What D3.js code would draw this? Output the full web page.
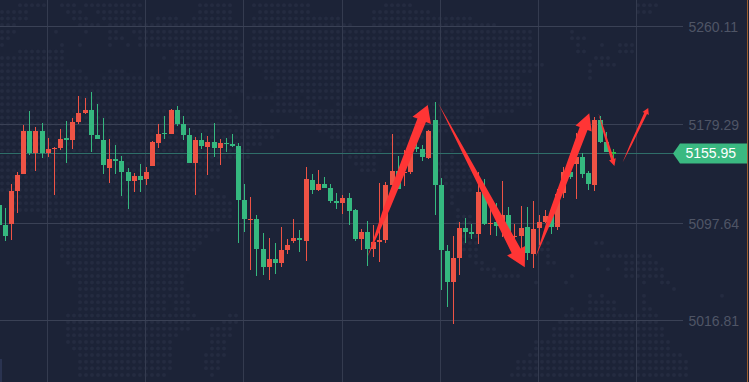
<!DOCTYPE html>
<html>
<head>
<meta charset="utf-8">
<script src="https://cdn.jsdelivr.net/npm/d3@7"></script>
<style>
    html, body { margin: 0; padding: 0; background: #1c2337; overflow: hidden; }
    svg { display: block; }
    text { font-family: "Liberation Sans", Arial, sans-serif; }
</style>
</head>
<body>
<div id="chart"></div>
<script>
// Candle data, oldest first
const opens = [5112.6, 5096.1, 5096.9, 5124.2, 5138.2, 5173.8, 5155.6, 5173.8, 5155.6, 5159.2,
    5159.7, 5168.0, 5166.3, 5181.2, 5188.6, 5191.1, 5170.5, 5166.3, 5143.2, 5150.6,
    5149.0, 5139.9, 5132.5, 5136.6, 5134.1, 5144.9, 5163.9, 5172.1, 5171.3, 5191.1,
    5179.6, 5170.5, 5147.3, 5166.3, 5160.6, 5164.7, 5159.8, 5163.9, 5163.0, 5161.4,
    5116.8, 5100.5, 5101.1, 5076.3, 5061.4, 5068.0, 5064.7, 5075.5, 5082.9, 5085.4,
    5082.9, 5133.3, 5125.0, 5130.0, 5126.7, 5116.0, 5114.3, 5118.4, 5108.5, 5084.5,
    5090.3, 5076.3, 5082.1, 5083.7, 5129.2, 5140.7, 5139.1, 5139.9, 5160.6, 5159.0,
    5151.5, 5182.9, 5129.2, 5074.7, 5049.0, 5068.9, 5093.7, 5090.3, 5088.7, 5123.4,
    5097.0, 5098.6, 5097.5, 5104.4, 5086.2, 5087.0, 5094.5, 5072.2, 5093.7, 5098.6,
    5103.6, 5094.5, 5122.6, 5139.9, 5146.5, 5152.3, 5139.1, 5129.2, 5182.9, 5164.7,
    5156.4];
const closes = [5096.1, 5087.0, 5124.2, 5137.4, 5173.8, 5155.6, 5173.8, 5155.6, 5158.9, 5159.7,
    5167.2, 5166.3, 5181.2, 5188.6, 5191.1, 5170.5, 5167.2, 5145.7, 5150.6, 5149.0,
    5139.9, 5132.5, 5136.6, 5133.3, 5139.9, 5164.7, 5171.3, 5171.3, 5191.1, 5179.6,
    5170.5, 5147.3, 5166.3, 5161.4, 5164.7, 5159.8, 5163.9, 5163.4, 5161.4, 5116.8,
    5101.1, 5101.1, 5076.3, 5061.4, 5068.0, 5064.7, 5075.5, 5079.6, 5085.4, 5083.7,
    5134.2, 5125.0, 5130.0, 5126.7, 5116.0, 5114.3, 5118.4, 5107.7, 5084.5, 5090.3,
    5076.3, 5082.1, 5083.7, 5129.2, 5140.7, 5125.9, 5139.9, 5155.3, 5159.0, 5152.3,
    5173.8, 5129.2, 5075.5, 5049.0, 5068.9, 5093.7, 5090.3, 5088.7, 5123.4, 5097.0,
    5097.8, 5095.3, 5104.4, 5083.7, 5087.0, 5093.7, 5073.0, 5092.8, 5098.6, 5103.6,
    5094.5, 5121.8, 5139.9, 5135.8, 5152.3, 5138.3, 5130.0, 5182.9, 5164.7, 5156.4,
    5154.8];
const highs = [5112.6, 5110.2, 5130.0, 5139.6, 5178.7, 5190.3, 5177.1, 5180.4, 5168.0, 5160.6,
    5175.4, 5182.0, 5184.5, 5202.7, 5201.0, 5206.0, 5196.1, 5184.5, 5167.2, 5162.2,
    5153.1, 5143.2, 5139.1, 5146.5, 5144.0, 5165.5, 5179.6, 5186.2, 5192.0, 5194.4,
    5186.2, 5176.3, 5168.8, 5172.1, 5169.7, 5180.4, 5167.2, 5168.0, 5171.3, 5163.9,
    5130.0, 5119.3, 5104.4, 5089.5, 5085.4, 5081.3, 5094.5, 5084.5, 5101.1, 5092.0,
    5144.0, 5138.3, 5141.6, 5135.8, 5130.0, 5122.6, 5120.9, 5122.6, 5109.4, 5092.8,
    5099.4, 5096.1, 5130.8, 5131.6, 5171.3, 5153.2, 5158.1, 5166.3, 5163.6, 5162.2,
    5174.6, 5197.7, 5135.0, 5079.6, 5087.0, 5098.6, 5101.9, 5097.0, 5139.9, 5134.2,
    5114.0, 5114.0, 5132.5, 5111.0, 5097.0, 5111.8, 5111.0, 5116.0, 5104.4, 5108.5,
    5108.5, 5125.9, 5144.0, 5147.1, 5171.9, 5155.3, 5140.7, 5185.6, 5186.2, 5173.0,
    5159.0];
const lows = [5096.1, 5082.9, 5083.7, 5106.0, 5138.2, 5153.9, 5140.7, 5151.5, 5152.3, 5120.9,
    5158.1, 5147.3, 5158.9, 5179.6, 5187.8, 5156.4, 5167.2, 5138.2, 5130.8, 5138.2,
    5120.1, 5109.3, 5123.4, 5123.4, 5129.2, 5144.9, 5159.7, 5167.2, 5171.3, 5178.0,
    5166.3, 5147.3, 5120.9, 5159.0, 5137.5, 5152.3, 5145.7, 5156.4, 5160.6, 5081.3,
    5090.3, 5059.0, 5054.0, 5054.8, 5050.7, 5055.6, 5061.4, 5072.2, 5081.3, 5073.8,
    5066.4, 5121.8, 5124.2, 5126.7, 5114.3, 5109.4, 5105.2, 5096.1, 5082.9, 5075.5,
    5062.3, 5070.0, 5065.6, 5081.3, 5129.2, 5125.9, 5128.4, 5138.3, 5156.4, 5149.0,
    5150.7, 5104.4, 5042.4, 5028.4, 5014.4, 5054.8, 5081.3, 5084.5, 5080.4, 5096.1,
    5087.9, 5087.0, 5086.5, 5081.0, 5072.7, 5072.7, 5067.2, 5060.6, 5079.6, 5097.5,
    5088.7, 5092.0, 5118.4, 5134.2, 5117.6, 5135.0, 5125.0, 5124.2, 5163.9, 5156.4,
    5149.9];

const priceTicks = [5260.11, 5179.29, 5097.64, 5016.81];
const lastPrice = 5155.95;
const timeTicks = [8, 24, 40, 56, 72, 88, 104];

// Hand drawn arrows, candle index and price at tail and tip
const arrowTails = [[60.1, 5069.9], [71.6, 5196.7], [87.5, 5069.9], [97.7, 5188.4], [101.6, 5147.6]];
const arrowTips = [[69.9, 5195.3], [85.7, 5061.2], [96.2, 5188.4], [100.3, 5144.9], [105.8, 5192.8]];
const arrowHeadLengths = [16.5, 18.6, 16.2, 7, 6];
const arrowHeadHalves = [9.9, 10.2, 8.6, 3.5, 3.5];
const arrowShaftHalves = [4.6, 5, 4.2, 1.5, 1.5];
const arrowMidRatios = [0.68, 0.38, 0.68, 0.6, 0.6];

// Dotted world map in the background, runs of dot columns for each dot row
const mapRows = [
    [[3, 7], [10, 12], [14, 23], [33, 38], [42, 51], [64, 68], [106, 109]],
    [[0, 4], [11, 13], [16, 22], [33, 38], [43, 51], [62, 71], [106, 108]],
    [[0, 4], [12, 14], [17, 23], [26, 29], [32, 38], [42, 56], [62, 78]],
    [[0, 2], [13, 16], [18, 24], [25, 29], [30, 39], [42, 58], [62, 82]],
    [[0, 2], [9, 9], [14, 14], [18, 19], [22, 39], [42, 88], [95, 95]],
    [[0, 1], [18, 20], [23, 39], [42, 88], [95, 97]],
    [[0, 0], [10, 10], [13, 13], [18, 18], [21, 21], [23, 40], [42, 88], [96, 96], [100, 100], [103, 105]],
    [[3, 10], [29, 40], [42, 88], [96, 97], [103, 105]],
    [[0, 10], [27, 27], [29, 40], [42, 88], [99, 101]],
    [[0, 10], [29, 40], [42, 90], [98, 98], [100, 102]],
    [[0, 13], [18, 20], [28, 40], [44, 88], [98, 98]],
    [[0, 14], [17, 23], [25, 26], [28, 40], [44, 86], [98, 98]],
    [[0, 40], [46, 88]],
    [[0, 40], [46, 88]],
    [[0, 37], [41, 49], [51, 88]],
    [[0, 37], [46, 52], [56, 88]],
    [[0, 38], [45, 56], [62, 85]],
    [[0, 39], [50, 80]],
    [[0, 43], [52, 80]],
    [[0, 46], [53, 80]],
    [[0, 45], [55, 72]],
    [[0, 43], [57, 68]],
    [[0, 41], [57, 63], [75, 75]],
    [[0, 41], [58, 62], [75, 75]],
    [[0, 36], [59, 62], [73, 78]],
    [[0, 36], [60, 62], [73, 78]],
    [[0, 36], [74, 78]],
    [[0, 34], [74, 78]],
    [[0, 35], [75, 78]],
    [[2, 37], [75, 75]],
    [[2, 38], [75, 75]],
    [[2, 38], [76, 76]],
    [[7, 38], [76, 78]],
    [[10, 36], [76, 78]],
    [[10, 36], [77, 78]],
    [[10, 34], [77, 79]],
    [[10, 33], [77, 79], [90, 91], [99, 100]],
    [[10, 32], [77, 79], [90, 91]],
    [[10, 31], [78, 79], [91, 91], [100, 108]],
    [[11, 31], [79, 80], [91, 92], [104, 109]],
    [[12, 31], [80, 82], [101, 101], [104, 110]],
    [[12, 30], [82, 86], [95, 95], [104, 110]],
    [[13, 30], [89, 89], [94, 94], [107, 107], [110, 111]],
    [[13, 30], [112, 112]],
    [[13, 31], [98, 98], [100, 100], [107, 107], [120, 120]],
    [[13, 27], [29, 31], [98, 102], [107, 107]],
    [[13, 27], [29, 31], [95, 95], [98, 102], [107, 108]],
    [[11, 32], [38, 39], [94, 109]],
    [[11, 31], [37, 39], [93, 109]],
    [[11, 31], [35, 38], [92, 110]],
    [[11, 29], [35, 38], [92, 110]],
    [[11, 28], [35, 37], [89, 111]],
    [[12, 28], [35, 37], [89, 111]],
    [[13, 28], [34, 37], [88, 113]],
    [[13, 28], [34, 36], [86, 114]],
    [[13, 28], [34, 36], [86, 114]],
    [[13, 27], [35, 35], [85, 114]]
];

const CHART_CONFIG = {
    width: 749,
    height: 382,
    gridRight: 683,
    candleWidth: 5,
    colors: {
        background: "#1c2337",
        dot: "#242b40",
        grid: "#3a4155",
        gridVertical: "#343b4f",
        priceLine: "#2f6e69",
        up: "#ee5345",
        down: "#35b87f",
        last: "#2cb94c",
        arrow: "#ff3535",
        tickText: "#4f5566",
        label: "#3ab981",
        edge: "#a0602f",
        corner: "#2a3350"
    }
};

function drawChart() {
    const { width, height, gridRight, candleWidth, colors } = CHART_CONFIG;

    const svg = d3.select("#chart")
        .append("svg")
        .attr("width", width)
        .attr("height", height);

    svg.append("rect")
        .attr("width", width)
        .attr("height", height)
        .attr("fill", colors.background);

    // Scales
    const xScale = d3.scaleLinear().domain([0, 100]).range([-1.4, 612.6]);
    const yScale = d3.scaleLinear().domain([5282, 4966.4]).range([0, height]);
    const gridScale = d3.scaleLinear().domain([8, 104]).range([47.5, 636.5]);
    const mapCol = d3.scaleLinear().domain([0, 124]).range([2, 746]);
    const mapRow = d3.scaleLinear().domain([0, 57]).range([5.3, 381.5]);

    // Background map
    const dots = mapRows.flatMap((runs, row) =>
        runs.flatMap(([from, to]) => d3.range(from, to + 1).map(col => ({ row, col }))));

    svg.append("g")
        .selectAll("circle")
        .data(dots)
        .join("circle")
        .attr("cx", d => mapCol(d.col))
        .attr("cy", d => mapRow(d.row))
        .attr("r", 2)
        .attr("fill", colors.dot);

    svg.append("rect")
        .attr("x", 0)
        .attr("y", 359)
        .attr("width", 2)
        .attr("height", 23)
        .attr("fill", colors.corner);

    // Vertical grid lines
    svg.append("g")
        .selectAll("line")
        .data(timeTicks)
        .join("line")
        .attr("x1", d => Math.floor(gridScale(d)) + 0.5)
        .attr("x2", d => Math.floor(gridScale(d)) + 0.5)
        .attr("y1", 0)
        .attr("y2", height)
        .attr("stroke", colors.gridVertical);

    // Price axis with full width grid lines
    const yAxis = d3.axisRight(yScale)
        .tickValues(priceTicks)
        .tickFormat(d3.format(".2f"))
        .tickSize(gridRight)
        .tickPadding(5.5);

    const axisGroup = svg.append("g").call(yAxis);
    axisGroup.select(".domain").remove();
    axisGroup.selectAll(".tick")
        .attr("transform", d => `translate(0,${Math.floor(yScale(d)) + 0.5})`);
    axisGroup.selectAll(".tick line").attr("stroke", colors.grid);
    axisGroup.selectAll(".tick text")
        .attr("y", 1.5)
        .attr("fill", colors.tickText)
        .style("font-size", "14px")
        .style("font-family", '"Liberation Sans", Arial, sans-serif');

    // Last price line
    const lastY = Math.round(yScale(lastPrice)) + 0.5;
    svg.append("line")
        .attr("x1", 0)
        .attr("x2", 675)
        .attr("y1", lastY)
        .attr("y2", lastY)
        .attr("stroke", colors.priceLine);

    // Candles
    const candles = d3.range(opens.length).map(i => ({
        i,
        open: opens[i],
        close: closes[i],
        high: highs[i],
        low: lows[i]
    }));
    const candleColor = d => d.i === candles.length - 1 ? colors.last
        : d.close >= d.open ? colors.up : colors.down;

    const candleGroup = svg.append("g")
        .selectAll("g")
        .data(candles)
        .join("g")
        .attr("fill", candleColor);

    candleGroup.append("rect")
        .attr("x", d => Math.round(xScale(d.i)))
        .attr("y", d => Math.round(yScale(d.high)))
        .attr("width", 1)
        .attr("height", d => Math.max(1, Math.round(yScale(d.low)) - Math.round(yScale(d.high))));

    candleGroup.append("rect")
        .attr("x", d => Math.round(xScale(d.i)) - 2)
        .attr("y", d => Math.round(yScale(Math.max(d.open, d.close))))
        .attr("width", candleWidth)
        .attr("height", d => Math.max(1, Math.round(yScale(Math.min(d.open, d.close))) - Math.round(yScale(Math.max(d.open, d.close)))));

    // Arrows, the shaft swells from a thin tail and then widens slowly
    const arrowPoints = (tail, tip, headLength, headHalf, shaftHalf, midRatio) => {
        const tx = xScale(tail[0]), ty = yScale(tail[1]);
        const hx = xScale(tip[0]), hy = yScale(tip[1]);
        const len = Math.hypot(hx - tx, hy - ty);
        const ux = (hx - tx) / len, uy = (hy - ty) / len;
        const bx = hx - ux * headLength, by = hy - uy * headLength;
        const mx = tx + (bx - tx) * 0.35, my = ty + (by - ty) * 0.35;
        const midHalf = shaftHalf * midRatio;
        return [
            [tx, ty],
            [mx - uy * midHalf, my + ux * midHalf],
            [bx - uy * shaftHalf, by + ux * shaftHalf],
            [bx - uy * headHalf, by + ux * headHalf],
            [hx, hy],
            [bx + uy * headHalf, by - ux * headHalf],
            [bx + uy * shaftHalf, by - ux * shaftHalf],
            [mx + uy * midHalf, my - ux * midHalf]
        ];
    };

    svg.append("g")
        .selectAll("polygon")
        .data(arrowTails)
        .join("polygon")
        .attr("points", (d, i) => arrowPoints(d, arrowTips[i], arrowHeadLengths[i], arrowHeadHalves[i], arrowShaftHalves[i], arrowMidRatios[i]).join(" "))
        .attr("fill", colors.arrow);

    // Last price tag
    const tagY = yScale(lastPrice) + 0.9;
    svg.append("polygon")
        .attr("points", [[673, tagY], [680, tagY - 10], [747, tagY - 10], [747, tagY + 10], [680, tagY + 10]].join(" "))
        .attr("fill", colors.label);

    svg.append("text")
        .attr("x", 685.5)
        .attr("y", tagY + 5)
        .attr("fill", "#fff")
        .style("font-size", "14px")
        .text(d3.format(".2f")(lastPrice));

    // Right edge of the screenshot
    svg.append("rect")
        .attr("x", 747)
        .attr("y", 0)
        .attr("width", 1)
        .attr("height", height)
        .attr("fill", colors.edge);
}

drawChart();
</script>
</body>
</html>
